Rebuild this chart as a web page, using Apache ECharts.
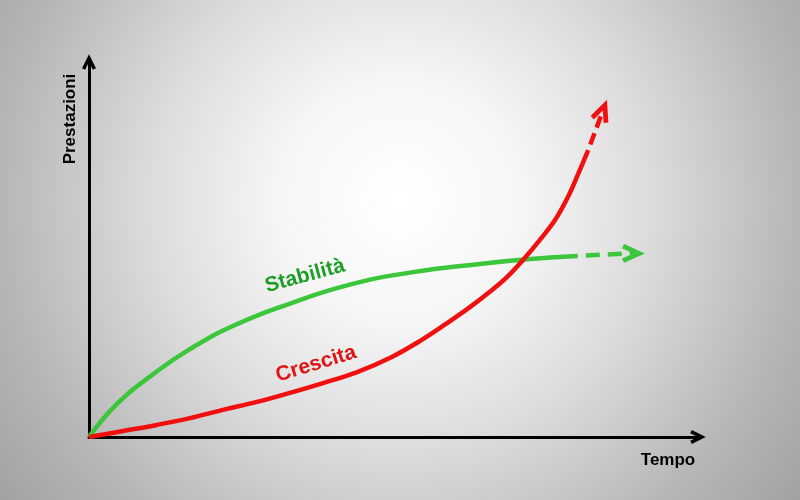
<!DOCTYPE html>
<html>
<head>
<meta charset="utf-8">
<script src="https://cdn.jsdelivr.net/npm/echarts@6/dist/echarts.min.js"></script>
<style>
   html, body { margin: 0; padding: 0; }
   #chart { width: 800px; height: 500px; }
</style>
</head>
<body>
<div id="chart"></div>
<script>
// time (x) and performance (y), arbitrary units 0..100
const stabilitaX = [0, 4.7, 10.3, 16.5, 23.9, 32.9, 42.7, 52.5, 64.0, 72.2, 80.0];
const stabilitaY = [0, 9.0, 16.4, 23.3, 29.7, 35.4, 40.4, 43.6, 45.9, 47.2, 48.0];
const stabilitaTrendX = [80.0, 84.5, 89.1];
const stabilitaTrendY = [48.0, 48.4, 48.7];

const crescitaX = [0, 5.6, 11.1, 16.5, 21.9, 27.5, 32.9, 38.3, 43.9, 49.3, 54.2, 58.6, 62.4, 65.6, 68.4, 71.0, 73.8, 76.3, 78.4, 80.2, 81.7];
const crescitaY = [0, 1.6, 3.2, 5.0, 7.2, 9.3, 11.7, 14.3, 17.2, 21.0, 25.5, 30.2, 34.5, 38.5, 42.4, 46.9, 52.3, 57.6, 63.7, 70.3, 76.1];
const crescitaTrendX = [81.7, 83.0, 84.1];
const crescitaTrendY = [76.1, 81.7, 86.6];

const GREEN = '#3cc63c';
const RED = '#f01010';
// open arrow head pointing up
const CHEVRON = 'path://M10,0 L20,20 L15.5,22.2 L10,11.2 L4.5,22.2 L0,20 Z';
const FONT = '"Liberation Sans", Arial, sans-serif';

function pairs(xs, ys) {
   return xs.map((x, i) => [x, ys[i]]);
}

// last point gets the arrow head
function trend(xs, ys, rotate) {
   const data = pairs(xs, ys);
   const last = data.length - 1;
   data[last] = {
      value: data[last],
      symbol: CHEVRON,
      symbolSize: [21, 23],
      symbolRotate: rotate,
      symbolKeepAspect: true
   };
   return data;
}

const axisLine = {
   show: true,
   onZero: false,
   symbol: ['none', CHEVRON],
   symbolSize: [14, 15.5],
   symbolOffset: [0, -2],
   lineStyle: { color: '#000', width: 3 }
};

const chart = echarts.init(document.getElementById('chart'));
chart.setOption({
   animation: false,
   backgroundColor: {
      type: 'radial',
      x: 0.5, y: 0.4, r: 1,
      colorStops: [
         { offset: 0, color: '#ffffff' },
         { offset: 0.25, color: '#f5f5f5' },
         { offset: 0.5, color: '#dcdcdc' },
         { offset: 0.8, color: '#b6b6b6' },
         { offset: 1, color: '#a2a2a2' }
      ]
   },
   grid: { left: 89, right: 100, top: 60, bottom: 63 },
   xAxis: {
      type: 'value', min: 0, max: 100,
      axisLine: axisLine,
      axisTick: { show: false },
      axisLabel: { show: false },
      splitLine: { show: false }
   },
   yAxis: {
      type: 'value', min: 0, max: 100,
      axisLine: axisLine,
      axisTick: { show: false },
      axisLabel: { show: false },
      splitLine: { show: false }
   },
   series: [
      {
         name: 'Stabilità',
         type: 'line',
         smooth: 0.5,
         symbol: 'none',
         silent: true,
         lineStyle: { color: GREEN, width: 4.5 },
         data: pairs(stabilitaX, stabilitaY)
      },
      {
         name: 'Stabilità trend',
         type: 'line',
         symbol: 'none',
         showSymbol: true,
         silent: true,
         lineStyle: { color: GREEN, width: 4.5, type: [14, 8], dashOffset: 14 },
         itemStyle: { color: GREEN, borderWidth: 0 },
         data: trend(stabilitaTrendX, stabilitaTrendY, -90)
      },
      {
         name: 'Crescita',
         type: 'line',
         smooth: 0.4,
         symbol: 'none',
         silent: true,
         lineStyle: { color: RED, width: 4.5 },
         data: pairs(crescitaX, crescitaY)
      },
      {
         name: 'Crescita trend',
         type: 'line',
         symbol: 'none',
         showSymbol: true,
         silent: true,
         lineStyle: { color: RED, width: 4.5, type: [12, 6], dashOffset: 12 },
         itemStyle: { color: RED, borderWidth: 0 },
         data: trend(crescitaTrendX, crescitaTrendY, -21)
      }
   ],
   graphic: [
      {
         type: 'text', x: 70, y: 119, rotation: Math.PI / 2,
         style: { text: 'Prestazioni', fill: '#000', font: 'bold 17px ' + FONT, textAlign: 'center', textVerticalAlign: 'middle' }
      },
      {
         type: 'text', x: 668, y: 460,
         style: { text: 'Tempo', fill: '#000', font: 'bold 17px ' + FONT, textAlign: 'center', textVerticalAlign: 'middle' }
      },
      {
         type: 'text', x: 305, y: 276, rotation: 15 * Math.PI / 180,
         style: { text: 'Stabilità', fill: '#1f9e27', font: 'bold 21px ' + FONT, textAlign: 'center', textVerticalAlign: 'middle' }
      },
      {
         type: 'text', x: 316, y: 364, rotation: 17 * Math.PI / 180,
         style: { text: 'Crescita', fill: '#e01414', font: 'bold 21px ' + FONT, textAlign: 'center', textVerticalAlign: 'middle' }
      }
   ]
});
</script>
</body>
</html>
